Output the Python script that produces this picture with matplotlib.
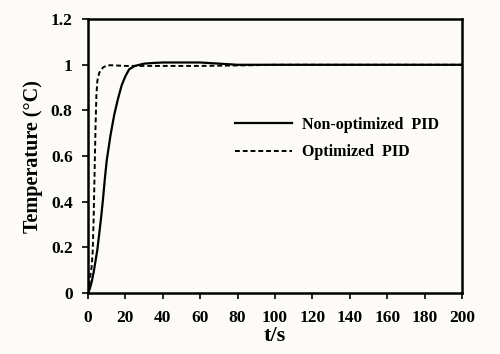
import matplotlib
matplotlib.use("Agg")
import matplotlib.pyplot as plt
from matplotlib.ticker import FuncFormatter

# step responses
t_non = [0, 1, 2, 3, 4, 5, 6, 7, 8, 9, 10, 12, 14, 16, 18, 20, 22, 25, 30,
         35, 40, 50, 60, 70, 80, 100, 150, 200]
y_non = [0, 0.02, 0.05, 0.09, 0.14, 0.19, 0.26, 0.33, 0.41, 0.50, 0.58, 0.69,
         0.78, 0.85, 0.91, 0.95, 0.98, 0.995, 1.005, 1.008, 1.01, 1.01, 1.01,
         1.005, 1.0, 1.0, 1.0, 1.0]

t_opt = [0, 1, 2, 2.5, 3, 3.5, 4, 4.5, 5, 6, 8, 10, 12, 20, 40, 60, 80, 100, 200]
y_opt = [0, 0.06, 0.12, 0.18, 0.32, 0.52, 0.72, 0.87, 0.93, 0.965, 0.988, 0.997,
         0.998, 0.995, 0.995, 0.995, 0.997, 1.0, 1.0]

x_ticks = list(range(0, 201, 20))
y_ticks = [0, 0.2, 0.4, 0.6, 0.8, 1.0, 1.2]

plt.rcParams["font.family"] = ["Liberation Serif", "DejaVu Serif"]
plt.rcParams["font.weight"] = "bold"

bg = "#fcfbf8"
fig = plt.figure(figsize=(5, 3.54), dpi=100, facecolor=bg)
ax = fig.add_axes([0.176, 0.172, 0.748, 0.774], facecolor=bg)

ax.plot(t_non, y_non, color="black", lw=1.6, label="Non-optimized  PID")
ax.plot(t_opt, y_opt, color="black", lw=1.4, ls=(0, (2.5, 1.5)), label="Optimized  PID")

ax.set_xlim(0, 200)
ax.set_ylim(0, 1.2)
ax.set_xticks(x_ticks)
ax.set_yticks(y_ticks)
ax.yaxis.set_major_formatter(FuncFormatter(lambda v, p: "%g" % v))
ax.tick_params(direction="out", length=4, width=1.2, labelsize=12.5)
ax.tick_params(axis="x", pad=8)
ax.tick_params(axis="y", pad=7)
for s in ax.spines.values():
    s.set_linewidth(1.8)

ax.set_xlabel("t/s", fontsize=16, fontweight="bold", labelpad=0)
ax.set_ylabel("Temperature (°C)", fontsize=14.5, fontweight="bold", labelpad=6)

ax.legend(loc="center left", bbox_to_anchor=(0.393, 0.564), frameon=False,
          handlelength=3.6, handletextpad=0.6, labelspacing=0.7,
          borderpad=0, borderaxespad=0,
          prop={"weight": "bold", "size": 11.5})

fig.savefig("out.png", dpi=100, facecolor=bg)
